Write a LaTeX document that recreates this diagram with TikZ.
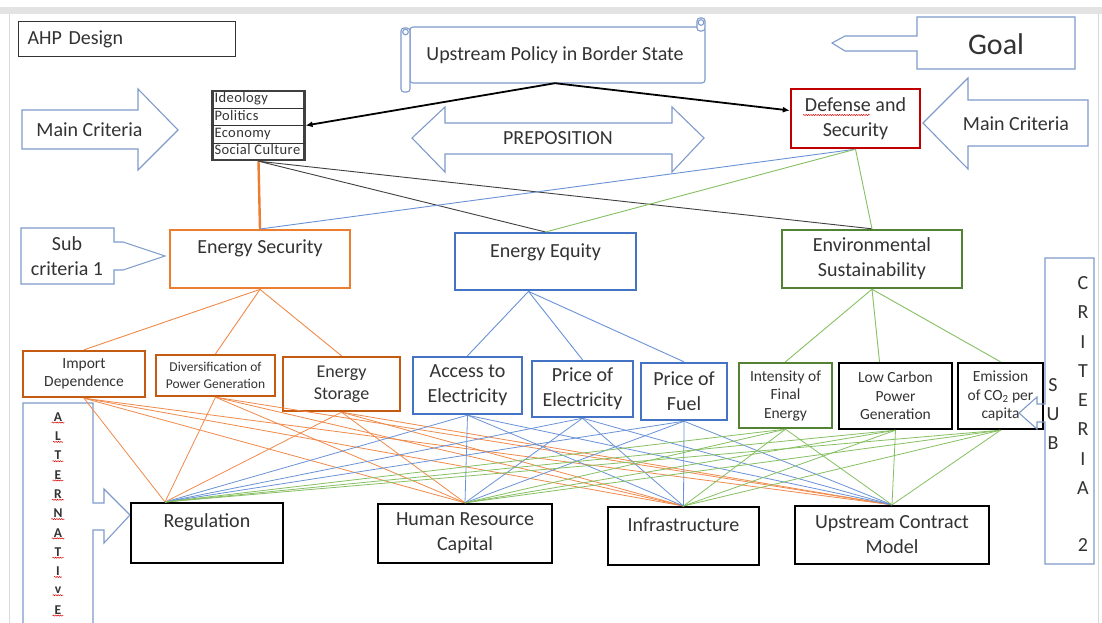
\documentclass[tikz,border=0pt]{standalone}
\usepackage{fontspec}
\setmainfont{Carlito}
\usetikzlibrary{arrows.meta,decorations.pathmorphing}
\definecolor{co}{HTML}{7F9BCB}
\definecolor{txt}{HTML}{333333}
\definecolor{orA}{HTML}{ED7D31}
\definecolor{orB}{HTML}{C55A11}
\definecolor{orL}{HTML}{F08A4B}
\definecolor{blA}{HTML}{4472C4}
\definecolor{blL}{HTML}{6A92D6}
\definecolor{grA}{HTML}{548235}
\definecolor{grL}{HTML}{86C062}
\definecolor{rdA}{HTML}{C00000}
\tikzset{
  box/.style={draw, fill=white, line width=2.4pt, text=txt, align=center, inner sep=0pt},
  cal/.style={draw=co, line width=1.1pt, line join=miter},
  lbl/.style={text=txt, inner sep=0pt, align=center},
  f20/.style={font=\fontsize{20}{25}\selectfont},
  f18/.style={font=\fontsize{18}{22}\selectfont},
  f155/.style={font=\fontsize{15.5}{18.5}\selectfont},
  f135/.style={font=\fontsize{13.5}{16.5}\selectfont},
  ln/.style={line width=0.9pt},
  wavy/.style={draw=red!85!black, line width=0.5pt, decorate, decoration={snake, amplitude=0.55pt, segment length=2.4pt}},
  bigarrow/.style={black, line width=1.8pt, -{Latex[length=7pt,width=6pt]}},
}
\begin{document}
\begin{tikzpicture}[x=1pt,y=-1pt]
\useasboundingbox (0,0) rectangle (1102,623);
\fill[white] (0,0) rectangle (1102,623);
\fill[black!11] (0,7) rectangle (1102,14);
\draw[black!15, line width=1pt] (9.5,14) -- (9.5,623) (1098.5,14) -- (1098.5,623);

% AHP Design
\node[box, line width=1pt, draw=black!80, minimum width=217pt, minimum height=35pt, text width=199pt, align=left, f20, anchor=west] (ahp) at (18,39.5) {AHP Design};

% Goal callout
\draw[cal] (1075,17) -- (917,17) -- (917,36) -- (845,36) -- (832,43) -- (845,51) -- (917,51) -- (917,69) -- (1075,69) -- cycle;
\node[lbl, font=\fontsize{30}{36}\selectfont] (goal) at (996,44) {Goal};

% Main criteria arrows
\draw[cal] (22,110) -- (138,110) -- (138,89) -- (178,130) -- (138,170) -- (138,149) -- (22,149) -- cycle;
\node[lbl,f20] (mcl) at (89.5,130) {Main Criteria};
\draw[cal] (1088,100) -- (968,100) -- (968,78) -- (923,123) -- (968,169) -- (968,146) -- (1088,146) -- cycle;
\node[lbl,f20] (mcr) at (1016,124) {Main Criteria};

% Preposition
\draw[cal] (412,138) -- (445,107) -- (445,123) -- (672,123) -- (672,107) -- (704,138) -- (672,172) -- (672,154) -- (445,154) -- (445,172) -- cycle;
\node[lbl,f20] (prep) at (558,138) {PREPOSITION};

% Sub criteria 1
\draw[cal] (21,228) -- (114,228) -- (114,242) -- (123,242) -- (165,256) -- (123,270) -- (114,270) -- (114,284) -- (21,284) -- cycle;
\node[lbl,f20] (sc1) at (67,256) {Sub\\criteria 1};

% Alternative
\draw[cal] (23,630) -- (23,403) -- (93,403) -- (93,503) -- (104,503) -- (104,489) -- (130,515) -- (104,543) -- (104,530) -- (93,530) -- (93,630);
\foreach \l [count=\i from 0] in {A,L,T,E,R,N,A,T,I,v,E}{
  \node[lbl, inner sep=1pt, font=\bfseries\fontsize{13.5}{15}\selectfont] (alt\i) at (58,{417+19.3*\i}) {\l};
  \draw[wavy] ([xshift=-1pt]alt\i.south west) -- ([xshift=1pt]alt\i.south east);
}

% Scroll
\draw[cal, fill=white, rounded corners=3pt] (410,27) rectangle (705,83);
\draw[cal, fill=white, rounded corners=3pt] (697,18) rectangle (705,31);
\draw[cal] (701,22.5) circle (2.8);
\draw[cal, fill=white, rounded corners=3pt] (401,28) rectangle (410,92);
\draw[cal] (405.5,32) circle (2.8);
\node[lbl, f20, minimum width=290pt, minimum height=56pt] (usp) at (555,55) {Upstream Policy in Border State};

% Table of main criteria
\node[draw=black!75, line width=2.2pt, fill=white, inner sep=0pt, text=txt, font=\fontsize{14.5}{17}\selectfont\addfontfeature{LetterSpace=3}] (tbl) at (258.5,125.5)
  {\begin{tabular}{@{\hspace{2pt}}p{90pt}@{}}Ideology\\\hline Politics\\\hline Economy\\\hline Social Culture\end{tabular}};

% Boxes
\node[box, draw=rdA, minimum width=129pt, minimum height=59pt, f20] (def) at (855.5,118.5) {Defense and\\Security};
\node[box, draw=orA, minimum width=180pt, text height=23pt, text depth=35pt, anchor=north, f20] (es) at (260,229) {Energy Security};
\node[box, draw=blA, minimum width=181pt, text height=24pt, text depth=33pt, anchor=north, f20] (ee) at (545.5,232) {Energy Equity};
\node[box, draw=grA, minimum width=180pt, minimum height=58pt, f20] (env) at (872,259) {Environmental\\Sustainability};
\node[box, draw=orB, minimum width=122pt, minimum height=46pt, f155] (imp) at (84,374) {Import\\Dependence};
\node[box, draw=orB, minimum width=119pt, minimum height=41pt, f135] (div) at (215.5,375.5) {Diversification of\\Power Generation};
\node[box, draw=orB, minimum width=117pt, minimum height=54pt, f18] (sto) at (341.5,384) {Energy\\Storage};
\node[box, draw=blA, minimum width=109pt, minimum height=57pt, f20] (acc) at (467.5,385.5) {Access to\\Electricity};
\node[box, draw=blA, minimum width=101pt, minimum height=56pt, f20] (pel) at (582.5,389) {Price of\\Electricity};
\node[box, draw=blA, minimum width=86pt, minimum height=57pt, f20] (pfu) at (684,391.5) {Price of\\Fuel};
\node[box, draw=grA, minimum width=93pt, minimum height=65pt, f155] (int) at (785.5,395.5) {Intensity of\\Final\\Energy};
\node[box, draw=black, minimum width=113pt, minimum height=66pt, f155] (low) at (895.5,396) {Low Carbon\\Power\\Generation};
\node[box, draw=black, minimum width=85pt, minimum height=66pt, f155] (emi) at (1000.5,396) {Emission\\of CO\textsubscript{2} per\\capita};
\node[box, draw=black, minimum width=152pt, text height=24pt, text depth=36pt, anchor=north, f20] (reg) at (207,502) {Regulation};
\node[box, draw=black, minimum width=174pt, minimum height=59pt, f20] (hrc) at (465,533.5) {Human Resource\\Capital};
\node[box, draw=black, minimum width=151pt, text height=24pt, text depth=34pt, anchor=north, f20] (inf) at (683.5,506) {Infrastructure};
\node[box, draw=black, minimum width=194pt, minimum height=58pt, f20] (ucm) at (892,535) {Upstream Contract\\Model};

% spell-check underline
\draw[wavy] (803,115) -- (870,115);

% Connectors
\draw[bigarrow] (usp.south) -- (tbl.east);
\draw[bigarrow] (usp.south) -- ([yshift=8pt]def.west);
\draw[orA, line width=2.4pt] (tbl.south) -- (es.north);
\draw[black!75, line width=0.9pt] (tbl.south) -- (ee.north) (tbl.south) -- (env.north);
\draw[blL, ln] (def.south) -- (es.north);
\draw[grL, ln] (def.south) -- (ee.north) (def.south) -- (env.north);
\foreach \t in {imp,div,sto} \draw[orL, ln] (es.south) -- (\t.north);
\coordinate (eeo) at ([xshift=-17pt]ee.south);
\foreach \t in {acc,pel,pfu} \draw[blL, ln] (eeo) -- (\t.north);
\draw[grL, ln] (env.south) -- (int.north) (env.south) -- ([xshift=-16pt]low.north) (env.south) -- (emi.north);
\coordinate (regp) at ([xshift=-42pt]reg.north);
\foreach \s/\c in {imp/orL,div/orL,sto/orL,acc/blL,pel/blL,pfu/blL,int/grL,low/grL,emi/grL}
  \foreach \a in {regp,hrc.north,inf.north,ucm.north}
    \draw[\c, line width=0.8pt] (\s.south) -- (\a);

% Sub criteria 2 callout
\draw[cal] (1045,258) -- (1094,258) -- (1094,564) -- (1045,564) -- (1045,422) -- (1037,422) -- (1037,429) -- (1019,413) -- (1037,397) -- (1037,404) -- (1045,404) -- cycle;
\foreach \l [count=\i from 0] in {C,R,I,T,E,R,I,A}
  \node[lbl, f20] (cr\i) at (1083,{283+29.3*\i}) {\l};
\node[lbl, f20] (cr8) at (1083,545) {2};
\foreach \l [count=\i from 0] in {S,U,B}
  \node[lbl, f20] (sub\i) at (1053,{385+29*\i}) {\l};
\end{tikzpicture}
\end{document}
